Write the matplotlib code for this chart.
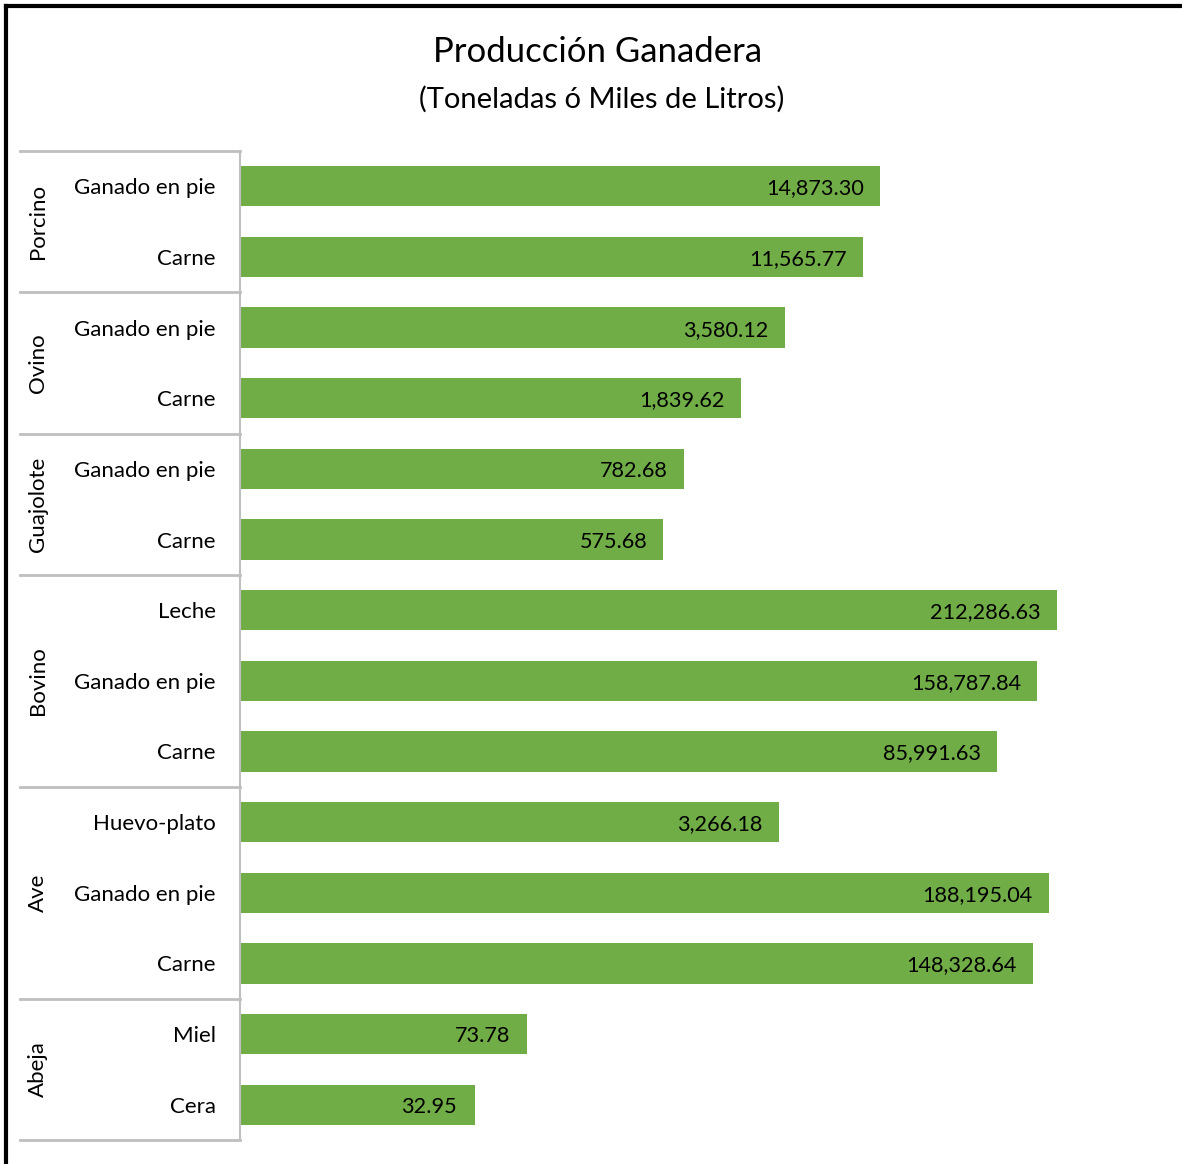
import matplotlib
matplotlib.use("Agg")
import matplotlib.pyplot as plt
from matplotlib.lines import Line2D

groups = ["Porcino", "Ovino", "Guajolote", "Bovino", "Ave", "Abeja"]
items = [
    ["Ganado en pie", "Carne"],
    ["Ganado en pie", "Carne"],
    ["Ganado en pie", "Carne"],
    ["Leche", "Ganado en pie", "Carne"],
    ["Huevo-plato", "Ganado en pie", "Carne"],
    ["Miel", "Cera"],
]
values = [
    [14873.30, 11565.77],
    [3580.12, 1839.62],
    [782.68, 575.68],
    [212286.63, 158787.84, 85991.63],
    [3266.18, 188195.04, 148328.64],
    [73.78, 32.95],
]

GREEN = "#70AD47"
GRID = "#BFBFBF"
FONT = "Lato"


def main():
    plt.rcParams["font.family"] = [FONT, "DejaVu Sans"]
    fig = plt.figure(figsize=(11.82, 11.64), dpi=100)
    W, H = 1182, 1164
    left, right, top, bottom = 240, 1160, 151, 1140
    ax = fig.add_axes([left / W, 1 - bottom / H, (right - left) / W, (bottom - top) / H])

    labels = [lab for grp in items for lab in grp]
    vals = [v for grp in values for v in grp]
    n = len(vals)
    ys = list(range(n))

    ax.barh(ys, vals, height=0.57, color=GREEN, left=1)
    ax.set_xscale("log")
    ax.set_xlim(1, 1e6)
    ax.set_ylim(n - 0.5, -0.5)
    ax.set_xticks([])
    ax.set_yticks([])
    ax.minorticks_off()
    for s in ["top", "right", "bottom"]:
        ax.spines[s].set_visible(False)
    ax.spines["left"].set_color(GRID)
    ax.spines["left"].set_linewidth(1.5)

    for y, v in zip(ys, vals):
        ax.annotate(f"{v:,.2f}", xy=(v, y), xytext=(-16, -2), textcoords="offset pixels",
                    ha="right", va="center", fontsize=15.6, color="black")

    # category labels
    for y, lab in zip(ys, labels):
        ax.annotate(lab, xy=(0, y), xycoords=("axes fraction", "data"), xytext=(-24, -2),
                    textcoords="offset pixels", ha="right", va="center", fontsize=16)

    # group labels and separators
    trans = ax.get_yaxis_transform()
    start = 0
    bounds = [-0.5]
    for g, grp in zip(groups, items):
        end = start + len(grp)
        mid = (start + end - 1) / 2
        ax.annotate(g, xy=(0, mid), xycoords=("axes fraction", "data"), xytext=(-202, 0),
                    textcoords="offset pixels", ha="center", va="center", rotation=90, fontsize=16)
        bounds.append(end - 0.5)
        start = end
    x0 = -(left - 20) / (right - left)
    for b in bounds:
        ax.add_line(Line2D([x0, 0], [b, b], transform=trans, color=GRID, lw=2, clip_on=False))

    fig.text(598 / W, 1 - 52 / H, "Producción Ganadera", ha="center", va="center", fontsize=25)
    fig.text(602 / W, 1 - 99 / H, "(Toneladas ó Miles de Litros)", ha="center", va="center", fontsize=21)

    # outer frame (left and top edges)
    fig.add_artist(Line2D([6 / W, 6 / W], [0, 1 - 6 / H], transform=fig.transFigure, color="black", lw=3))
    fig.add_artist(Line2D([6 / W, 1], [1 - 6 / H, 1 - 6 / H], transform=fig.transFigure, color="black", lw=3))

    fig.savefig("out.png", dpi=100)
    plt.close(fig)


if __name__ == "__main__":
    main()
